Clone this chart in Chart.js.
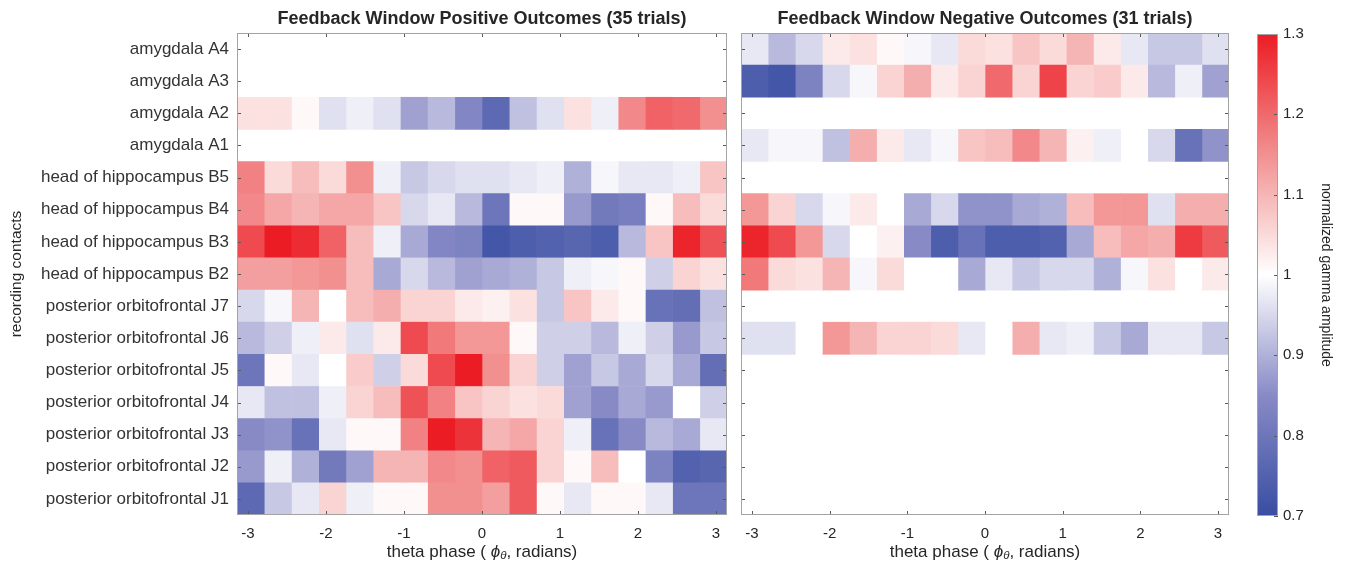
<!DOCTYPE html>
<html>
<head>
<meta charset="utf-8">
<title>Feedback window gamma amplitude by theta phase</title>
<script src="https://cdn.jsdelivr.net/npm/chart.js@4.4.1/dist/chart.umd.min.js"></script>
<style>
  html, body { margin: 0; padding: 0; background: #ffffff; }
  #figure { position: relative; width: 1348px; height: 570px; overflow: hidden; background: #ffffff; }
  #figure canvas { position: absolute; top: 0; }
</style>
</head>
<body>
<div id="figure">
  <canvas id="positivePanel" width="735" height="570" style="left:0"></canvas>
  <canvas id="negativePanel" width="505" height="570" style="left:735px"></canvas>
  <canvas id="colorBar" width="108" height="570" style="left:1240px"></canvas>
</div>
<script>
// ---- data -----------------------------------------------------------------
// recording contacts, top row first
const contacts = [
  'amygdala A4', 'amygdala A3', 'amygdala A2', 'amygdala A1',
  'head of hippocampus B5', 'head of hippocampus B4', 'head of hippocampus B3', 'head of hippocampus B2',
  'posterior orbitofrontal J7', 'posterior orbitofrontal J6', 'posterior orbitofrontal J5',
  'posterior orbitofrontal J4', 'posterior orbitofrontal J3', 'posterior orbitofrontal J2',
  'posterior orbitofrontal J1'
];

// theta phase bin edges (degrees), 18 bins of 20 degrees
const phaseBinEdgesDeg = [-180, -160, -140, -120, -100, -80, -60, -40, -20, 0,
                          20, 40, 60, 80, 100, 120, 140, 160, 180];

const phaseTicks = [-3, -2, -1, 0, 1, 2, 3];
const amplitudeTicks = [0.7, 0.8, 0.9, 1.0, 1.1, 1.2, 1.3];

// normalized gamma amplitude per contact (rows) and phase bin (columns); null = no data
const positiveGamma = [
  null,
  null,
  [1.04, 1.04, 1.01, 0.96, 0.98, 0.96, 0.88, 0.91, 0.84, 0.77, 0.92, 0.96, 1.04, 0.98, 1.16, 1.21, 1.20, 1.15],
  null,
  [1.17, 1.05, 1.09, 1.05, 1.15, 0.98, 0.93, 0.95, 0.96, 0.96, 0.97, 0.98, 0.90, 0.99, 0.97, 0.97, 0.98, 1.08],
  [1.16, 1.12, 1.10, 1.12, 1.12, 1.08, 0.95, 0.97, 0.91, 0.80, 1.01, 1.01, 0.87, 0.81, 0.82, 1.01, 1.09, 1.05],
  [1.24, 1.30, 1.28, 1.21, 1.09, 0.98, 0.89, 0.84, 0.83, 0.72, 0.74, 0.75, 0.76, 0.74, 0.91, 1.08, 1.29, 1.23],
  [1.13, 1.13, 1.14, 1.15, 1.09, 0.89, 0.95, 0.91, 0.88, 0.89, 0.90, 0.93, 0.98, 0.99, 1.01, 0.94, 1.06, 1.04],
  [0.95, 0.99, 1.10, 1.00, 1.09, 1.11, 1.06, 1.06, 1.03, 1.02, 1.04, 0.93, 1.08, 1.03, 1.01, 0.79, 0.78, 0.92],
  [0.91, 0.94, 0.98, 1.03, 0.96, 1.03, 1.24, 1.18, 1.14, 1.14, 1.01, 0.94, 0.94, 0.91, 0.98, 0.94, 0.87, 0.93],
  [0.80, 1.01, 0.97, 1.00, 1.07, 0.94, 1.05, 1.24, 1.30, 1.15, 1.06, 0.94, 0.88, 0.93, 0.89, 0.95, 0.89, 0.78],
  [0.97, 0.92, 0.92, 0.98, 1.06, 1.09, 1.23, 1.17, 1.08, 1.06, 1.04, 1.05, 0.88, 0.85, 0.89, 0.87, 1.00, 0.94],
  [0.85, 0.86, 0.79, 0.97, 1.01, 1.01, 1.17, 1.30, 1.27, 1.10, 1.12, 1.06, 0.98, 0.79, 0.85, 0.91, 0.89, 0.97],
  [0.87, 0.98, 0.90, 0.81, 0.88, 1.10, 1.10, 1.16, 1.15, 1.21, 1.22, 1.06, 1.01, 1.09, 1.00, 0.83, 0.75, 0.76],
  [0.77, 0.93, 0.97, 1.06, 0.98, 1.01, 1.01, 1.15, 1.15, 1.13, 1.22, 1.01, 0.97, 1.01, 1.01, 0.97, 0.80, 0.80]
];

const negativeGamma = [
  [0.97, 0.91, 0.95, 1.03, 1.04, 1.01, 0.99, 0.97, 1.05, 1.04, 1.08, 1.05, 1.10, 1.03, 0.97, 0.93, 0.93, 0.96],
  [0.74, 0.72, 0.83, 0.95, 0.99, 1.06, 1.11, 1.03, 1.06, 1.20, 1.06, 1.25, 1.06, 1.07, 1.03, 0.91, 0.98, 0.88],
  null,
  [0.97, 0.99, 0.99, 0.92, 1.11, 1.03, 0.97, 0.99, 1.08, 1.09, 1.16, 1.10, 1.02, 0.98, 1.00, 0.95, 0.79, 0.86],
  null,
  [1.14, 1.06, 0.95, 0.99, 1.03, 1.00, 0.89, 0.95, 0.86, 0.86, 0.89, 0.90, 1.09, 1.14, 1.14, 0.96, 1.11, 1.11],
  [1.29, 1.24, 1.14, 0.95, 1.00, 1.02, 0.85, 0.74, 0.79, 0.74, 0.74, 0.75, 0.89, 1.09, 1.12, 1.11, 1.26, 1.22],
  [1.18, 1.05, 1.04, 1.10, 0.99, 1.05, 1.00, 1.00, 0.89, 0.97, 0.93, 0.95, 0.95, 0.90, 0.99, 1.04, 1.00, 1.03],
  null,
  [0.96, 0.96, 1.00, 1.14, 1.10, 1.06, 1.06, 1.05, 0.97, 1.00, 1.11, 0.97, 0.98, 0.93, 0.89, 0.97, 0.97, 0.93],
  null,
  null,
  null,
  null,
  null
];

// diverging blue - white - red colormap stops: [amplitude, [r, g, b]]
const colorStops = [
  [0.70, [56, 78, 162]],
  [0.85, [136, 138, 198]],
  [1.00, [255, 255, 255]],
  [1.15, [242, 144, 144]],
  [1.30, [236, 28, 36]]
];

// ---- helpers --------------------------------------------------------------
const TEXT = '#262626';
const FAMILY = '"Liberation Sans", Arial, Helvetica, "DejaVu Sans", sans-serif';
Chart.defaults.font.family = FAMILY;
Chart.defaults.color = TEXT;

const rgbString = c => `rgb(${c[0]},${c[1]},${c[2]})`;

function gammaColor(v) {
  if (v <= colorStops[0][0]) return rgbString(colorStops[0][1]);
  for (let k = 1; k < colorStops.length; k++) {
    const [v0, c0] = colorStops[k - 1];
    const [v1, c1] = colorStops[k];
    if (v <= v1) {
      const t = (v - v0) / (v1 - v0);
      return rgbString(c0.map((c, i) => Math.round(c + (c1[i] - c) * t)));
    }
  }
  return rgbString(colorStops[colorStops.length - 1][1]);
}

const phaseEdges = phaseBinEdgesDeg.map(d => d * Math.PI / 180);

// one floating-bar dataset per phase bin; each bar spans its bin on the phase axis
function binDatasets(matrix) {
  return phaseEdges.slice(0, -1).map((lo, j) => ({
    label: 'phase bin ' + (j + 1),
    data: matrix.map(row => (row && row[j] != null) ? [lo, phaseEdges[j + 1]] : null),
    backgroundColor: matrix.map(row => (row && row[j] != null) ? gammaColor(row[j]) : 'rgba(0,0,0,0)'),
    borderWidth: 0,
    grouped: false,
    barPercentage: 1,
    categoryPercentage: 1
  }));
}

// box around the plot area plus short inward tick marks
const panelFrame = {
  id: 'panelFrame',
  afterDatasetsDraw(chart, args, opts) {
    const { ctx, chartArea: a, scales } = chart;
    const len = 4;
    ctx.save();
    ctx.lineWidth = 1;
    ctx.strokeStyle = '#5a5a5a';
    ctx.beginPath();
    if (opts.phaseTicks) {
      phaseTicks.forEach(v => {
        const px = Math.round(scales.x.getPixelForValue(v)) + 0.5;
        ctx.moveTo(px, a.top); ctx.lineTo(px, a.top + len);
        ctx.moveTo(px, a.bottom); ctx.lineTo(px, a.bottom - len);
      });
    }
    if (opts.rowTicks) {
      contacts.forEach((c, i) => {
        const py = Math.round(scales.y.getPixelForValue(i)) + 0.5;
        ctx.moveTo(a.left, py); ctx.lineTo(a.left + len, py);
        ctx.moveTo(a.right, py); ctx.lineTo(a.right - len, py);
      });
    }
    if (opts.amplitudeTicks) {
      amplitudeTicks.forEach(v => {
        const py = Math.round(scales.y.getPixelForValue(v)) + 0.5;
        ctx.moveTo(a.right, py); ctx.lineTo(a.right - len, py);
      });
    }
    ctx.stroke();
    ctx.strokeStyle = '#a3a3a3';
    ctx.strokeRect(Math.round(a.left) + 0.5, Math.round(a.top) + 0.5,
                   Math.round(a.right - a.left) - 1, Math.round(a.bottom - a.top) - 1);
    ctx.restore();
  }
};

// x-axis title with an italic phi and subscript theta
const phaseAxisTitle = {
  id: 'phaseAxisTitle',
  afterDraw(chart) {
    const { ctx, chartArea: a, scales } = chart;
    const size = 17;
    const parts = [
      { text: 'theta phase ( ', font: `${size}px ${FAMILY}`, dy: 0 },
      { text: '\u03D5', font: `italic ${size}px ${FAMILY}`, dy: 0 },
      { text: '\u03B8', font: `italic ${size * 0.68}px ${FAMILY}`, dy: 4 },
      { text: ', radians)', font: `${size}px ${FAMILY}`, dy: 0 }
    ];
    ctx.save();
    ctx.fillStyle = TEXT;
    ctx.textBaseline = 'middle';
    ctx.textAlign = 'left';
    let total = 0;
    parts.forEach(p => { ctx.font = p.font; p.w = ctx.measureText(p.text).width; total += p.w; });
    let x = (a.left + a.right) / 2 - total / 2;
    const y = scales.x.bottom - 18;
    parts.forEach(p => { ctx.font = p.font; ctx.fillText(p.text, x, y + p.dy); x += p.w; });
    ctx.restore();
  }
};

function panelConfig(titleText, matrix, withContactLabels) {
  return {
    type: 'bar',
    data: { labels: contacts, datasets: binDatasets(matrix) },
    plugins: [panelFrame, phaseAxisTitle],
    options: {
      indexAxis: 'y',
      responsive: false,
      animation: false,
      events: [],
      layout: {
        padding: withContactLabels
          ? { left: 0, right: 8, top: 0, bottom: 0 }
          : { left: 6, right: 11, top: 0, bottom: 0 }
      },
      plugins: {
        legend: { display: false },
        tooltip: { enabled: false },
        title: {
          display: true,
          text: titleText,
          fullSize: false,
          color: TEXT,
          font: { family: FAMILY, size: 18, weight: 'bold', lineHeight: 1.2 },
          padding: { top: 8, bottom: 3.4 }
        },
        panelFrame: { phaseTicks: true, rowTicks: true }
      },
      scales: {
        x: {
          type: 'linear',
          min: -Math.PI,
          max: Math.PI,
          afterBuildTicks: s => { s.ticks = phaseTicks.map(v => ({ value: v })); },
          afterFit: s => { s.height = 55; },
          grid: { display: false, drawTicks: false },
          border: { display: false },
          ticks: { color: TEXT, padding: 10, maxRotation: 0, autoSkip: false,
                   font: { family: FAMILY, size: 15 } }
        },
        y: withContactLabels ? {
          type: 'category',
          afterFit: s => { s.width = 237; },
          grid: { display: false, drawTicks: false },
          border: { display: false },
          ticks: { color: '#333333', padding: 8, autoSkip: false,
                   font: { family: FAMILY, size: 17 } },
          title: { display: true, text: 'recording contacts', color: TEXT,
                   font: { family: FAMILY, size: 15.5 }, padding: { top: 7, bottom: 0 } }
        } : {
          type: 'category',
          display: false
        }
      }
    }
  };
}

new Chart(document.getElementById('positivePanel'),
  panelConfig('Feedback Window Positive Outcomes (35 trials)', positiveGamma, true));
new Chart(document.getElementById('negativePanel'),
  panelConfig('Feedback Window Negative Outcomes (31 trials)', negativeGamma, false));

// ---- color bar --------------------------------------------------------------
// builds the vertical gradient from the amplitude scale once the layout is known
const colorBarGradient = {
  id: 'colorBarGradient',
  afterLayout(chart) {
    const ys = chart.scales.y;
    const lo = colorStops[0][0];
    const hi = colorStops[colorStops.length - 1][0];
    const y0 = ys.getPixelForValue(lo);
    const y1 = ys.getPixelForValue(hi);
    if (!isFinite(y0) || !isFinite(y1)) return;
    const g = chart.ctx.createLinearGradient(0, y0, 0, y1);
    colorStops.forEach(([v, c]) => g.addColorStop((v - lo) / (hi - lo), rgbString(c)));
    chart.$amplitudeGradient = g;
  }
};

new Chart(document.getElementById('colorBar'), {
  type: 'bar',
  data: {
    labels: ['normalized gamma amplitude'],
    datasets: [{
      data: [[amplitudeTicks[0], amplitudeTicks[amplitudeTicks.length - 1]]],
      backgroundColor: context => context.chart.$amplitudeGradient || '#ffffff',
      borderWidth: 0,
      barPercentage: 1,
      categoryPercentage: 1
    }]
  },
  plugins: [colorBarGradient, panelFrame],
  options: {
    responsive: false,
    animation: false,
    events: [],
    layout: { padding: { left: 17, right: 0, top: 34, bottom: 54 } },
    plugins: {
      legend: { display: false },
      tooltip: { enabled: false },
      panelFrame: { amplitudeTicks: true }
    },
    scales: {
      x: { type: 'category', display: false },
      y: {
        type: 'linear',
        position: 'right',
        min: amplitudeTicks[0],
        max: amplitudeTicks[amplitudeTicks.length - 1],
        afterBuildTicks: s => { s.ticks = amplitudeTicks.map(v => ({ value: v })); },
        afterFit: s => { s.width = 70; },
        grid: { display: false, drawTicks: false },
        border: { display: false },
        ticks: { color: TEXT, padding: 5, autoSkip: false,
                 font: { family: FAMILY, size: 15 },
                 callback: v => String(Number(v.toFixed(1))) },
        title: { display: true, text: 'normalized gamma amplitude', color: TEXT,
                 font: { family: FAMILY, size: 14 }, padding: { top: 13.6, bottom: 0 } }
      }
    }
  }
});
</script>
</body>
</html>
